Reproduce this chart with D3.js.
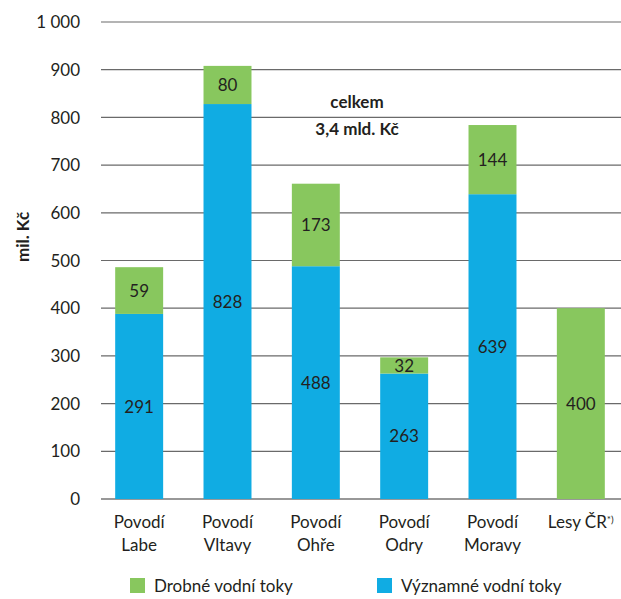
<!DOCTYPE html>
<html>
<head>
<meta charset="utf-8">
<script src="https://cdn.jsdelivr.net/npm/d3@7"></script>
<style>
  body { margin: 0; background: #fff; }
  svg { font-family: Lato, "Open Sans", sans-serif; }
</style>
</head>
<body>
<div id="chart"></div>
<script>
// categories, two lines each
var categories = [
  ['Povodí', 'Labe'],
  ['Povodí', 'Vltavy'],
  ['Povodí', 'Ohře'],
  ['Povodí', 'Odry'],
  ['Povodí', 'Moravy'],
  ['Lesy ČR', '']
];
// bar heights as drawn in the picture (mil. Kč)
var vyznamne = [388, 828, 488, 263, 639, 0];
var drobne = [98, 80, 173, 34, 145, 400];
// value labels printed on the bars
var vyznamneLbl = ['291', '828', '488', '263', '639', ''];
var drobneLbl = ['59', '80', '173', '32', '144', '400'];
var yTicks = [0, 100, 200, 300, 400, 500, 600, 700, 800, 900, 1000];
var legendItems = ['Drobné vodní toky', 'Významné vodní toky'];

var width = 621, height = 599;
var green = '#88c75e', blue = '#10ace3', ink = '#231f20';

var svg = d3.select('#chart').append('svg')
    .attr('width', width)
    .attr('height', height);

var x = d3.scaleBand()
    .domain(d3.range(categories.length))
    .range([95, 625])
    .paddingInner(0.457)
    .paddingOuter(0.2285);

var y = d3.scaleLinear()
    .domain([0, 1000])
    .range([499, 22]);

// gridlines
svg.append('g').selectAll('line')
    .data(yTicks)
    .enter().append('line')
    .attr('x1', 101)
    .attr('x2', width)
    .attr('y1', d => y(d))
    .attr('y2', d => y(d))
    .attr('stroke', d => d === 0 ? '#333' : '#6a6a6a')
    .attr('stroke-width', 1.2);

// y tick labels
svg.append('g').selectAll('text')
    .data(yTicks)
    .enter().append('text')
    .attr('x', 80)
    .attr('y', d => y(d))
    .attr('dy', '0.36em')
    .attr('text-anchor', 'end')
    .attr('fill', ink)
    .style('font-size', '17px')
    .text(d => d3.format(',')(d).replace(',', ' '));

svg.append('text')
    .attr('transform', 'translate(29,237) rotate(-90)')
    .attr('text-anchor', 'middle')
    .attr('fill', ink)
    .style('font-size', '17px')
    .style('font-weight', 'bold')
    .text('mil. Kč');

// bars
var bars = svg.append('g').selectAll('g')
    .data(categories)
    .enter().append('g');

bars.append('rect')
    .attr('x', (d, i) => x(i))
    .attr('width', x.bandwidth())
    .attr('y', (d, i) => y(vyznamne[i]))
    .attr('height', (d, i) => y(0) - y(vyznamne[i]))
    .attr('fill', blue);

bars.append('rect')
    .attr('x', (d, i) => x(i))
    .attr('width', x.bandwidth())
    .attr('y', (d, i) => y(vyznamne[i] + drobne[i]))
    .attr('height', (d, i) => y(vyznamne[i]) - y(vyznamne[i] + drobne[i]))
    .attr('fill', green);

bars.append('text')
    .attr('x', (d, i) => x(i) + x.bandwidth() / 2)
    .attr('y', (d, i) => y(vyznamne[i] / 2))
    .attr('dy', '0.36em')
    .attr('text-anchor', 'middle')
    .attr('fill', ink)
    .style('font-size', '17px')
    .text((d, i) => vyznamneLbl[i]);

bars.append('text')
    .attr('x', (d, i) => x(i) + x.bandwidth() / 2)
    .attr('y', (d, i) => y(vyznamne[i] + drobne[i] / 2))
    .attr('dy', '0.36em')
    .attr('text-anchor', 'middle')
    .attr('fill', ink)
    .style('font-size', '17px')
    .text((d, i) => drobneLbl[i]);

// category labels
var cat = svg.append('g').selectAll('text')
    .data(categories)
    .enter().append('text')
    .attr('x', (d, i) => x(i) + x.bandwidth() / 2)
    .attr('y', 528)
    .attr('text-anchor', 'middle')
    .attr('fill', ink)
    .style('font-size', '17px');
cat.append('tspan').text(d => d[0]);
cat.filter(d => d[0] === 'Lesy ČR').append('tspan')
    .attr('dy', '-0.5em')
    .style('font-size', '10px')
    .text('*)');
cat.append('tspan')
    .attr('x', (d, i) => x(i) + x.bandwidth() / 2)
    .attr('y', 551)
    .text(d => d[1]);

// total note
svg.append('text')
    .attr('x', 357).attr('y', 108)
    .attr('text-anchor', 'middle')
    .attr('fill', ink)
    .style('font-size', '17px').style('font-weight', 'bold')
    .text('celkem');
svg.append('text')
    .attr('x', 357).attr('y', 135)
    .attr('text-anchor', 'middle')
    .attr('fill', ink)
    .style('font-size', '17px').style('font-weight', 'bold')
    .text('3,4 mld. Kč');

// legend
var leg = svg.append('g').selectAll('g')
    .data(legendItems)
    .enter().append('g')
    .attr('transform', (d, i) => 'translate(' + (130 + i * 247) + ',578)');
leg.append('rect')
    .attr('width', 15).attr('height', 15)
    .attr('fill', (d, i) => i === 0 ? green : blue);
leg.append('text')
    .attr('x', 24).attr('y', 14)
    .attr('fill', ink)
    .style('font-size', '17px')
    .text(d => d);
</script>
</body>
</html>
